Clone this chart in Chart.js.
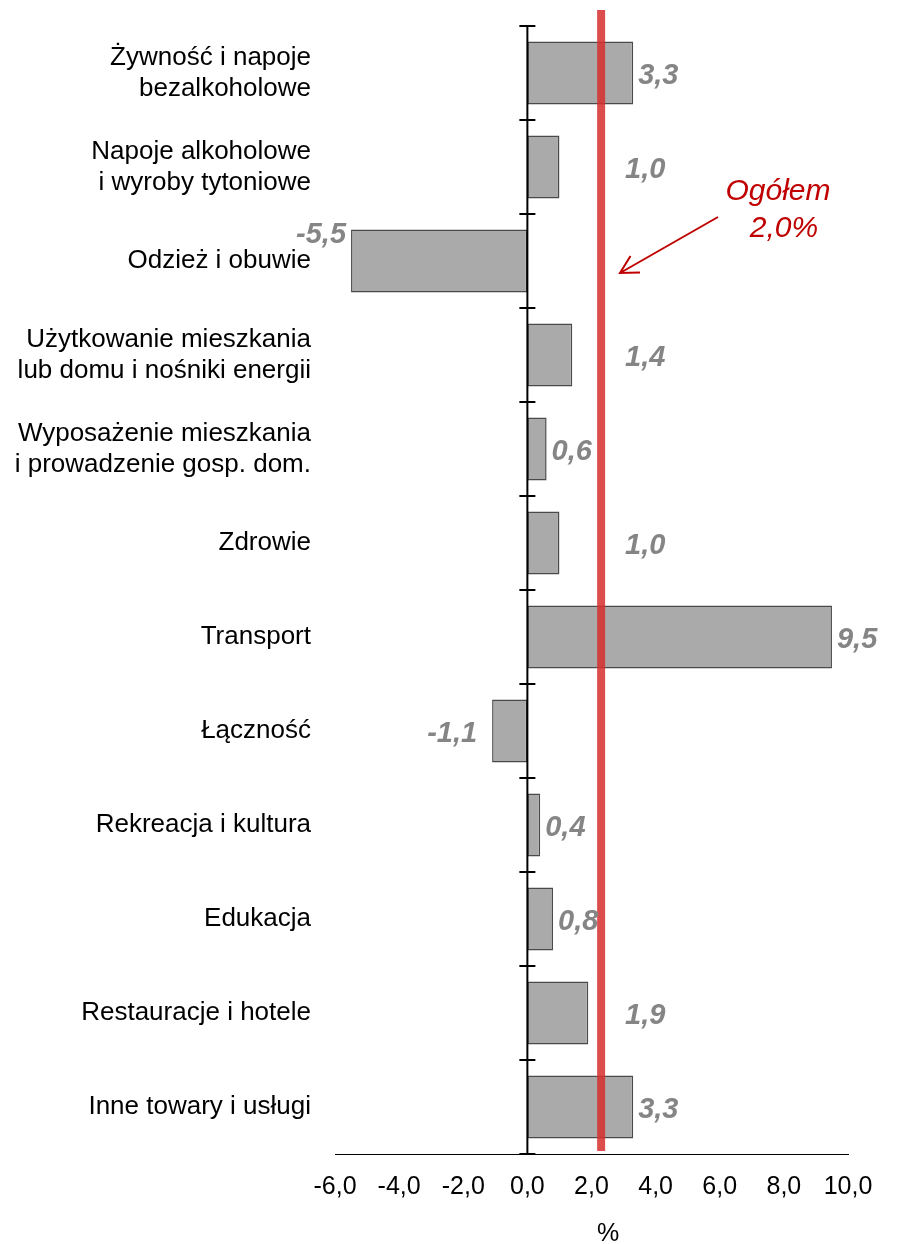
<!DOCTYPE html>
<html>
<head>
<meta charset="utf-8">
<script src="https://cdn.jsdelivr.net/npm/chart.js"></script>
<style>
  html, body { margin: 0; padding: 0; background: #fff; }
  #wrap { width: 898px; height: 1244px; }
</style>
</head>
<body>
<div id="wrap"><canvas id="Chart"></canvas></div>
<script>
// categories (multi-line labels as in the original)
const categories = [
  ["Żywność i napoje", "bezalkoholowe"],
  ["Napoje alkoholowe", "i wyroby tytoniowe"],
  "Odzież i obuwie",
  ["Użytkowanie mieszkania", "lub domu i nośniki energii"],
  ["Wyposażenie mieszkania", "i prowadzenie gosp. dom."],
  "Zdrowie",
  "Transport",
  "Łączność",
  "Rekreacja i kultura",
  "Edukacja",
  "Restauracje i hotele",
  "Inne towary i usługi"
];
const values = [3.3, 1.0, -5.5, 1.4, 0.6, 1.0, 9.5, -1.1, 0.4, 0.8, 1.9, 3.3];
const xTicks = [-6, -4, -2, 0, 2, 4, 6, 8, 10];
const ogolemText = ["Ogółem", "2,0%"];
const ogolemLineAt = 2.3; // where the red line sits in the picture
const axisTitle = "%";

const fmt = v => v.toFixed(1).replace(".", ",");

// vertical axis at 0, cross ticks, red line, labels, arrow
const extras = {
  id: "extras",
  afterDatasetsDraw(chart) {
    const ctx = chart.ctx;
    const x = chart.scales.x;
    const area = chart.chartArea;
    const x0 = x.getPixelForValue(0);
    const step = (area.bottom - area.top) / categories.length;

    ctx.save();
    // axis line at zero
    ctx.strokeStyle = "#000";
    ctx.lineWidth = 2;
    ctx.beginPath();
    ctx.moveTo(x0, area.top);
    ctx.lineTo(x0, area.bottom);
    for (let i = 0; i <= categories.length; i++) {
      let yy = Math.round(area.top + i * step);
      ctx.moveTo(x0 - 8, yy);
      ctx.lineTo(x0 + 8, yy);
    }
    ctx.stroke();

    // red "Ogółem" line
    const rx = x.getPixelForValue(ogolemLineAt);
    ctx.strokeStyle = "rgba(214, 46, 46, 0.85)";
    ctx.lineWidth = 8;
    ctx.beginPath();
    ctx.moveTo(rx, area.top - 16);
    ctx.lineTo(rx, area.bottom - 3);
    ctx.stroke();

    // value labels
    ctx.font = "italic bold 29px 'Liberation Sans', Arial, sans-serif";
    ctx.fillStyle = "#858585";
    ctx.textBaseline = "middle";
    const meta = chart.getDatasetMeta(0);
    meta.data.forEach((bar, i) => {
      const v = values[i];
      const txt = fmt(v);
      const w = ctx.measureText(txt).width;
      let ly = bar.y + 3;
      if (v >= 0) {
        let lx = bar.x + 5;
        if (lx < rx + 4 && lx + w > rx) lx = rx + 24;
        ctx.textAlign = "left";
        ctx.fillText(txt, lx, ly);
      } else {
        let lx = bar.x - 15;
        if (lx - w < area.left) {
          lx = bar.x - 5;
          ly = bar.y - 26;
        }
        ctx.textAlign = "right";
        ctx.fillText(txt, lx, ly);
      }
    });

    // annotation
    ctx.fillStyle = "#c00000";
    ctx.font = "italic 30px 'Liberation Sans', Arial, sans-serif";
    ctx.textAlign = "center";
    ctx.fillText(ogolemText[0], 778, 192);
    ctx.fillText(ogolemText[1], 784, 229);

    // arrow
    ctx.strokeStyle = "#c00000";
    ctx.lineWidth = 2;
    const ax1 = 718, ay1 = 217, ax2 = 620, ay2 = 273;
    const ang = Math.atan2(ay2 - ay1, ax2 - ax1);
    ctx.beginPath();
    ctx.moveTo(ax1, ay1);
    ctx.lineTo(ax2, ay2);
    ctx.moveTo(ax2 + 20 * Math.cos(ang + Math.PI - 0.5), ay2 + 20 * Math.sin(ang + Math.PI - 0.5));
    ctx.lineTo(ax2, ay2);
    ctx.lineTo(ax2 + 20 * Math.cos(ang + Math.PI + 0.5), ay2 + 20 * Math.sin(ang + Math.PI + 0.5));
    ctx.stroke();

    // axis title
    ctx.fillStyle = "#000";
    ctx.font = "25px 'Liberation Sans', Arial, sans-serif";
    ctx.fillText(axisTitle, 608, 1234);
    ctx.restore();
  }
};

const ctx = document.getElementById("Chart").getContext("2d");
new Chart(ctx, {
  type: "bar",
  data: {
    labels: categories,
    datasets: [{
      data: values,
      backgroundColor: "#aaaaaa",
      borderColor: "#4a4a4a",
      borderWidth: 1.5,
      borderSkipped: false,
      barPercentage: 0.67,
      categoryPercentage: 1
    }]
  },
  options: {
    indexAxis: "y",
    responsive: true,
    maintainAspectRatio: false,
    animation: false,
    layout: { padding: { top: 26, right: 50, bottom: 0, left: 0 } },
    plugins: {
      legend: { display: false },
      tooltip: { enabled: false }
    },
    scales: {
      x: {
        min: -6,
        max: 10,
        afterBuildTicks: s => { s.ticks = xTicks.map(v => ({ value: v })); },
        afterFit: s => { s.height = 1244 - 1154; },
        grid: { display: false, drawTicks: false },
        border: { display: true, color: "#000", width: 1 },
        ticks: {
          color: "#000",
          padding: 18,
          maxRotation: 0,
          font: { family: "'Liberation Sans', Arial, sans-serif", size: 25 },
          callback: v => fmt(v)
        }
      },
      y: {
        afterFit: s => { s.width = 335; s.paddingTop = 0; s.paddingBottom = 0; },
        grid: { display: false, drawTicks: false },
        border: { display: false },
        ticks: {
          color: "#000",
          padding: 24,
          font: { family: "'Liberation Sans', Arial, sans-serif", size: 26, lineHeight: 1.18 }
        }
      }
    }
  },
  plugins: [extras]
});
</script>
</body>
</html>
